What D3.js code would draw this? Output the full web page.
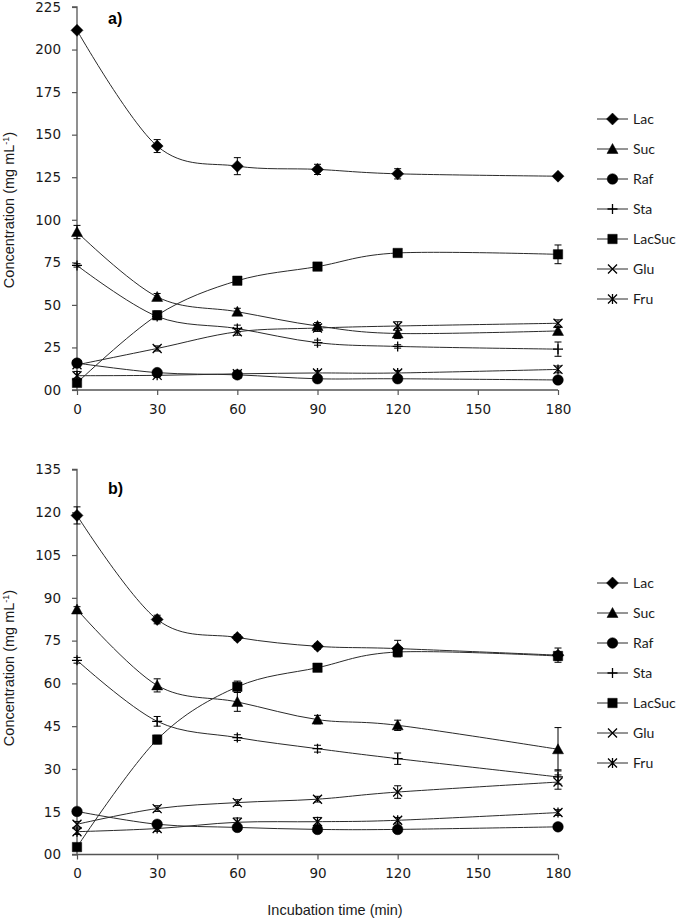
<!DOCTYPE html>
<html>
<head>
<meta charset="utf-8">
<script src="https://cdn.jsdelivr.net/npm/d3@7"></script>
<style>
  html, body { margin: 0; padding: 0; background: #fff; }
  svg { display: block; }
</style>
</head>
<body>
<svg id="chart" width="678" height="919"></svg>
<script>
// ---------- DATA ----------
const times = [0, 30, 60, 90, 120, 180];
const xTicks = [0, 30, 60, 90, 120, 150, 180];
const seriesNames = ["Lac", "Suc", "Raf", "Sta", "LacSuc", "Glu", "Fru"];

// panel a)
const yTicksA = [0, 25, 50, 75, 100, 125, 150, 175, 200, 225];
const lacA    = [211.3, 143.3, 131.5, 129.6, 127.0, 125.6];
const sucA    = [92.8, 54.7, 46.0, 37.6, 33.2, 34.7];
const rafA    = [15.8, 10.2, 8.9, 6.6, 6.6, 5.9];
const staA    = [73.2, 43.2, 36.1, 27.8, 25.6, 24.0];
const lacSucA = [4.2, 43.9, 64.2, 72.5, 80.5, 79.7];
const gluA    = [14.8, 24.4, 34.2, 36.4, 37.6, 39.2];
const fruA    = [8.4, 8.6, 9.5, 10.0, 10.0, 12.1];
const lacAErr    = [1.0, 3.8, 5.0, 3.0, 3.0, 1.0];
const sucAErr    = [3.9, 2.0, 2.0, 2.0, 3.0, 2.0];
const rafAErr    = [1.0, 1.0, 1.0, 1.0, 0.5, 0.5];
const staAErr    = [1.0, 1.5, 2.0, 1.5, 1.0, 4.2];
const lacSucAErr = [1.0, 2.5, 1.0, 1.0, 1.0, 5.5];
const gluAErr    = [1.0, 1.5, 2.0, 2.0, 2.5, 2.0];
const fruAErr    = [2.5, 1.0, 1.0, 1.5, 1.5, 2.0];

// panel b)
const yTicksB = [0, 15, 30, 45, 60, 75, 90, 105, 120, 135];
const lacB    = [118.9, 82.4, 76.1, 73.0, 72.2, 69.9];
const sucB    = [85.9, 59.3, 53.5, 47.3, 45.3, 36.9];
const rafB    = [15.1, 10.6, 9.5, 8.8, 8.8, 9.7];
const staB    = [68.1, 46.7, 41.0, 37.1, 33.6, 27.2];
const lacSucB = [2.6, 40.3, 58.8, 65.5, 71.0, 69.6];
const gluB    = [10.6, 16.1, 18.2, 19.4, 21.9, 25.4];
const fruB    = [8.0, 9.1, 11.3, 11.5, 12.0, 14.7];
const lacBErr    = [3.0, 1.5, 1.0, 1.0, 2.9, 2.5];
const sucBErr    = [1.0, 2.3, 3.3, 1.5, 1.8, 7.6];
const rafBErr    = [0.5, 1.0, 1.0, 1.0, 0.5, 0.5];
const staBErr    = [1.0, 1.7, 1.0, 1.2, 2.0, 2.5];
const lacSucBErr = [0.5, 1.5, 2.0, 1.0, 1.5, 1.5];
const gluBErr    = [1.0, 1.0, 1.0, 1.0, 2.2, 2.5];
const fruBErr    = [1.0, 1.0, 1.5, 1.5, 1.0, 1.0];

// ---------- DRAWING ----------
const svg = d3.select("#chart");
const TICK_FONT = "'DejaVu Sans', Verdana, sans-serif";
const LEG_FONT = "'Liberation Sans Narrow', 'Arial Narrow', Lato, sans-serif";
const TITLE_FONT = "'Liberation Sans', Arial, sans-serif";
const axisColor = "#555";
const lineColor = "#2a2a2a";

function markerPath(type) {
  switch (type) {
    case "Lac": return "M0,-6L6,0L0,6L-6,0Z";
    case "Suc": return "M0,-5.5L5.5,4.5L-5.5,4.5Z";
    case "Raf": return d3.symbol(d3.symbolCircle, Math.PI * 5.3 * 5.3)();
    case "Sta": return "M-5,0L5,0M0,-5L0,5";
    case "LacSuc": return "M-4.7,-4.7L4.7,-4.7L4.7,4.7L-4.7,4.7Z";
    case "Glu": return "M-4.5,-4.5L4.5,4.5M-4.5,4.5L4.5,-4.5";
    case "Fru": return "M-4.5,-4.5L4.5,4.5M-4.5,4.5L4.5,-4.5M0,-5L0,5";
  }
}
function isStroked(type) { return type === "Sta" || type === "Glu" || type === "Fru"; }

function drawMarker(g, type) {
  g.append("path")
    .attr("d", markerPath(type))
    .attr("fill", isStroked(type) ? "none" : "#000")
    .attr("stroke", "#000")
    .attr("stroke-width", isStroked(type) ? 1.3 : 0.5);
}

function drawPanel(cfg) {
  const x = d3.scaleLinear().domain([0, 180]).range([77, 558]);
  const y = d3.scaleLinear().domain([0, cfg.yMax]).range([cfg.yBottom, cfg.yTop]);
  const g = svg.append("g");

  // axes
  const yAxis = d3.axisLeft(y).tickValues(cfg.yTicks).tickSize(5).tickPadding(11)
    .tickFormat(d => d === 0 ? "00" : String(d));
  const gy = g.append("g").attr("transform", "translate(77,0)").call(yAxis);
  const xAxis = d3.axisBottom(x).tickValues(xTicks).tickSize(5).tickPadding(9);
  const gx = g.append("g").attr("transform", `translate(0,${cfg.yBottom})`).call(xAxis);
  [gx, gy].forEach(a => {
    a.selectAll("path.domain").attr("stroke", axisColor).attr("stroke-width", 1.3);
    a.selectAll(".tick line").attr("stroke", axisColor).attr("stroke-width", 1.2);
    a.selectAll(".tick text").attr("fill", "#1a1a1a")
      .style("font-family", TICK_FONT).style("font-size", "13.5px");
  });
  gy.select("path.domain").attr("d", `M-5,${y(cfg.yMax)}H0V${cfg.yBottom}`);
  gx.select("path.domain").attr("d", `M${x(0) - 5},0H${x(180)}`);

  const line = d3.line().x(d => x(d.t)).y(d => y(d.v)).curve(d3.curveCardinal.tension(0));

  cfg.series.forEach(s => {
    const pts = times.map((t, i) => ({ t, v: s.values[i], e: s.err[i] }));
    g.append("path").datum(pts).attr("d", line)
      .attr("fill", "none").attr("stroke", lineColor).attr("stroke-width", 1);
  });
  cfg.series.forEach(s => {
    const pts = times.map((t, i) => ({ t, v: s.values[i], e: s.err[i] }));
    const eb = g.append("g");
    pts.forEach(p => {
      const x0 = x(p.t), y1 = y(p.v + p.e), y2 = y(p.v - p.e);
      eb.append("path")
        .attr("d", `M${x0},${y1}V${y2}M${x0 - 3.5},${y1}H${x0 + 3.5}M${x0 - 3.5},${y2}H${x0 + 3.5}`)
        .attr("stroke", "#000").attr("stroke-width", 1).attr("fill", "none");
    });
    pts.forEach(p => {
      const mg = g.append("g").attr("transform", `translate(${x(p.t)},${y(p.v)})`);
      drawMarker(mg, s.name);
    });
  });

  // panel label
  g.append("text").attr("x", 108).attr("y", cfg.labelY).text(cfg.label)
    .style("font-family", TITLE_FONT).style("font-size", "16px").style("font-weight", "bold");

  // y title
  const yt = g.append("text")
    .attr("transform", `translate(14,${cfg.titleY}) rotate(-90)`)
    .attr("text-anchor", "middle")
    .style("font-family", TITLE_FONT).style("font-size", "14.5px").attr("fill", "#1a1a1a");
  yt.append("tspan").text("Concentration (mg mL");
  yt.append("tspan").text("-1").attr("dy", -5).style("font-size", "9px");
  yt.append("tspan").text(")").attr("dy", 5);

  // legend
  const lg = g.append("g");
  cfg.series.forEach((s, i) => {
    const ly = cfg.legendY + i * 30;
    lg.append("line").attr("x1", 597).attr("x2", 628).attr("y1", ly).attr("y2", ly)
      .attr("stroke", lineColor).attr("stroke-width", 1);
    drawMarker(lg.append("g").attr("transform", `translate(612.5,${ly})`), s.name);
    lg.append("text").attr("x", 633).attr("y", ly + 5).text(s.name)
      .style("font-family", LEG_FONT).style("font-size", "14px").attr("fill", "#1a1a1a");
  });
}

drawPanel({
  yMax: 225, yTop: 7, yBottom: 390, yTicks: yTicksA, label: "a)", labelY: 24,
  titleY: 210, legendY: 119,
  series: [
    { name: "Lac", values: lacA, err: lacAErr },
    { name: "Suc", values: sucA, err: sucAErr },
    { name: "Raf", values: rafA, err: rafAErr },
    { name: "Sta", values: staA, err: staAErr },
    { name: "LacSuc", values: lacSucA, err: lacSucAErr },
    { name: "Glu", values: gluA, err: gluAErr },
    { name: "Fru", values: fruA, err: fruAErr }
  ]
});

drawPanel({
  yMax: 135, yTop: 469.5, yBottom: 854.5, yTicks: yTicksB, label: "b)", labelY: 494,
  titleY: 668, legendY: 583,
  series: [
    { name: "Lac", values: lacB, err: lacBErr },
    { name: "Suc", values: sucB, err: sucBErr },
    { name: "Raf", values: rafB, err: rafBErr },
    { name: "Sta", values: staB, err: staBErr },
    { name: "LacSuc", values: lacSucB, err: lacSucBErr },
    { name: "Glu", values: gluB, err: gluBErr },
    { name: "Fru", values: fruB, err: fruBErr }
  ]
});

// x title
svg.append("text").attr("x", 335).attr("y", 915).attr("text-anchor", "middle")
  .text("Incubation time (min)")
  .style("font-family", TITLE_FONT).style("font-size", "14.5px").attr("fill", "#1a1a1a");
</script>
</body>
</html>
